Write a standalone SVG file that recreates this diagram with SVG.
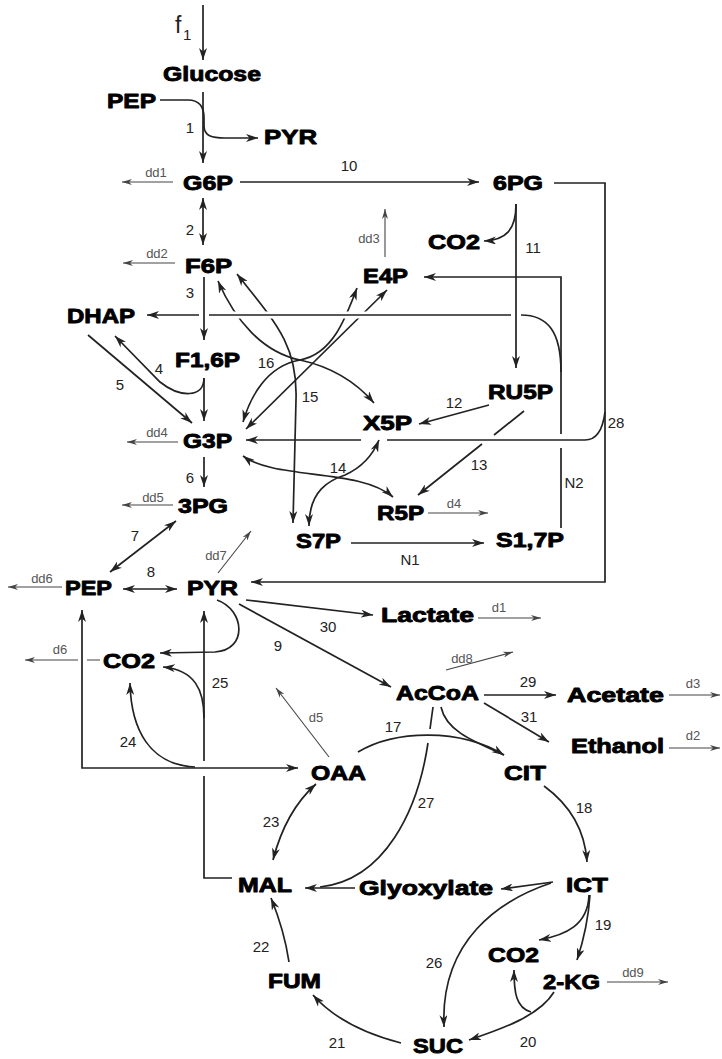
<svg xmlns="http://www.w3.org/2000/svg" width="722" height="1059" viewBox="0 0 722 1059">
<defs>
<style>
.n{font-family:"Liberation Sans",Arial,sans-serif;font-weight:bold;font-size:21px;fill:#000;stroke:#000;stroke-width:0.9;stroke-linejoin:round}
.l{font-family:"Liberation Sans",Arial,sans-serif;font-size:15px;fill:#222;text-anchor:middle}
.g{font-family:"Liberation Sans",Arial,sans-serif;font-size:13px;fill:#555;text-anchor:middle}
.c{fill:none;stroke:#222;stroke-width:1.7}
.ca{fill:none;stroke:#222;stroke-width:1.7;marker-end:url(#ah)}
.cb{fill:none;stroke:#222;stroke-width:1.7;marker-start:url(#ah);marker-end:url(#ah)}
.d{fill:none;stroke:#444;stroke-width:1.1;marker-end:url(#ag)}
.h{fill:none;stroke:#fff;stroke-width:7}
</style>
<marker id="ah" viewBox="0 0 12 8" refX="12" refY="4" markerWidth="12" markerHeight="8" markerUnits="userSpaceOnUse" orient="auto-start-reverse"><path d="M0,0 L12,4 L0,8 L3.5,4 z" fill="#222"/></marker>
<marker id="ag" viewBox="0 0 10 6" refX="10" refY="3" markerWidth="10" markerHeight="6" markerUnits="userSpaceOnUse" orient="auto"><path d="M0,0 L10,3 L0,6 L3,3 z" fill="#444"/></marker>
</defs>
<rect width="722" height="1059" fill="#fff"/>
<g id="connectors">
<path class="ca" d="M203,5 L203,60"/>
<path class="ca" d="M203,92 L203,163"/>
<path class="ca" d="M160,100 L188,100 C200,100 204,108 204,118 L204,126 C204,136 212,138 225,138 L258,138"/>
<path class="d" d="M173,182 L122,182"/>
<path class="ca" d="M240,182 L479,182"/>
<path class="cb" d="M203,198 L203,245"/>
<path class="d" d="M175,263 L123,263"/>
<path class="ca" d="M516,204 C516,230 506,240 484,241"/>
<path class="d" d="M385,257 L385,209"/>
<path class="ca" d="M554,183 L605,183 L605,582 L251,582"/>
<path class="ca" d="M605,412 C603,428 598,440 585,440 L387,440 M361,440 L246,440"/>
<path class="ca" d="M561,528 L561,448 M561,434 L561,277 L424,277"/>
<path class="cb" d="M218,281 C235,320 262,352 300,360 C332,367 356,382 374,403"/>
<path class="cb" d="M357,288 C345,320 332,354 300,360 C266,366 250,398 243,422"/>
<path class="cb" d="M237,274 C275,322 298,345 296,400 L293,523"/>
<path class="cb" d="M387,290 L246,429"/>
<path class="h" d="M215,315 L420,315"/>
<path class="ca" d="M561,372 C561,332 548,315 521,315 M511,315 L209,315 M199,315 L147,315"/>
<path class="ca" d="M204,277 L204,340"/>
<path class="ca" d="M516,204 L516,368"/>
<path class="ca" d="M204,378 C204,398 180,398 160,382 L115,336"/>
<path class="ca" d="M204,378 L204,421"/>
<path class="ca" d="M88,335 L192,423"/>
<path class="d" d="M178,442 L127,442"/>
<path class="ca" d="M204,457 L204,487"/>
<path class="d" d="M173,505 L122,505"/>
<path class="cb" d="M176,521 L110,572"/>
<path class="d" d="M62,587 L8,587"/>
<path class="cb" d="M123,589 L177,589"/>
<path class="d" d="M218,573 L251,531"/>
<path class="ca" d="M489,405 L419,424"/>
<path class="ca" d="M524,411 L494,435 M482,444 L418,495"/>
<path class="cb" d="M243,456 C275,480 360,468 393,497"/>
<path class="cb" d="M309,526 C309,490 330,480 345,475 C365,466 374,452 379,440"/>
<path class="d" d="M428,513 L488,513"/>
<path class="ca" d="M351,543 L484,543"/>
<path class="ca" d="M217,600 C245,610 248,650 215,652 L160,653"/>
<path class="d" d="M100,660 L87,660 M78,660 L25,660"/>
<path class="cb" d="M82,610 L82,768 L298,768"/>
<path class="ca" d="M195,767 C150,765 131,730 130,683"/>
<path class="ca" d="M232,878 L204,878 L204,776 M204,761 L204,611"/>
<path class="ca" d="M204,718 C204,690 195,670 163,667"/>
<path class="ca" d="M239,604 L391,687"/>
<path class="ca" d="M246,600 L373,615"/>
<path class="d" d="M478,618 L541,618"/>
<path class="d" d="M329,757 L276,688"/>
<path class="d" d="M446,670 L513,652"/>
<path class="ca" d="M484,695 L556,695"/>
<path class="ca" d="M484,703 L549,742"/>
<path class="d" d="M669,695 L720,695"/>
<path class="d" d="M669,748 L720,748"/>
<path class="ca" d="M358,752 C395,730 460,728 504,755"/>
<path class="c" d="M441,707 C446,730 470,740 504,755"/>
<path class="c" d="M433,707 L430,729 M428,743 C418,810 385,880 320,887"/>
<path class="ca" d="M355,888 L305,888"/>
<path class="cb" d="M273,860 C282,825 298,800 316,784"/>
<path class="ca" d="M544,786 C570,805 585,830 587,862"/>
<path class="ca" d="M553,882 L501,889"/>
<path class="ca" d="M551,883 C500,900 440,940 444,1027"/>
<path class="ca" d="M589,895 C588,925 566,935 539,940"/>
<path class="ca" d="M590,895 C588,925 582,945 577,960"/>
<path class="d" d="M607,982 L668,982"/>
<path class="ca" d="M554,992 C540,1015 505,1028 469,1040"/>
<path class="ca" d="M531,1012 C516,1008 514,992 514,970"/>
<path class="ca" d="M401,1043 C370,1035 335,1020 313,995"/>
<path class="ca" d="M289,962 C285,935 278,915 271,898"/>
</g>
<g id="reaction-labels">
<text x="175" y="33" style="font-family:'Liberation Sans',Arial,sans-serif;font-size:23px;fill:#222">f</text>
<text x="183" y="40" style="font-family:'Liberation Sans',Arial,sans-serif;font-size:15px;fill:#222">1</text>
<text class="l" x="190" y="133">1</text>
<text class="l" x="349" y="171">10</text>
<text class="l" x="190" y="235">2</text>
<text class="l" x="190" y="298">3</text>
<text class="l" x="533" y="253">11</text>
<text class="l" x="159" y="374">4</text>
<text class="l" x="120" y="390">5</text>
<text class="l" x="266" y="368">16</text>
<text class="l" x="310" y="402">15</text>
<text class="l" x="454" y="408">12</text>
<text class="l" x="616" y="428">28</text>
<text class="l" x="190" y="483">6</text>
<text class="l" x="479" y="470">13</text>
<text class="l" x="338" y="473">14</text>
<text class="l" x="574" y="488">N2</text>
<text class="l" x="135" y="541">7</text>
<text class="l" x="410" y="565">N1</text>
<text class="l" x="151" y="577">8</text>
<text class="l" x="328" y="632">30</text>
<text class="l" x="278" y="651">9</text>
<text class="l" x="220" y="688">25</text>
<text class="l" x="528" y="687">29</text>
<text class="l" x="529" y="722">31</text>
<text class="l" x="393" y="732">17</text>
<text class="l" x="128" y="747">24</text>
<text class="l" x="584" y="813">18</text>
<text class="l" x="271" y="827">23</text>
<text class="l" x="426" y="808">27</text>
<text class="l" x="603" y="930">19</text>
<text class="l" x="261" y="952">22</text>
<text class="l" x="434" y="968">26</text>
<text class="l" x="528" y="1047">20</text>
<text class="l" x="337" y="1048">21</text>
<text class="g" x="156" y="177">dd1</text>
<text class="g" x="157" y="258">dd2</text>
<text class="g" x="369" y="243">dd3</text>
<text class="g" x="157" y="437">dd4</text>
<text class="g" x="153" y="502">dd5</text>
<text class="g" x="42" y="583">dd6</text>
<text class="g" x="216" y="560">dd7</text>
<text class="g" x="60" y="654">d6</text>
<text class="g" x="454" y="508">d4</text>
<text class="g" x="499" y="612">d1</text>
<text class="g" x="462" y="663">dd8</text>
<text class="g" x="316" y="722">d5</text>
<text class="g" x="693" y="688">d3</text>
<text class="g" x="693" y="740">d2</text>
<text class="g" x="633" y="977">dd9</text>
</g>
<g id="glucose"><text class="n" x="163" y="81" textLength="98" lengthAdjust="spacingAndGlyphs">Glucose</text></g>
<g id="pep_top"><text class="n" x="107" y="108" textLength="49" lengthAdjust="spacingAndGlyphs">PEP</text></g>
<g id="pyr_top"><text class="n" x="264" y="144" textLength="53" lengthAdjust="spacingAndGlyphs">PYR</text></g>
<g id="g6p"><text class="n" x="183" y="190" textLength="50" lengthAdjust="spacingAndGlyphs">G6P</text></g>
<g id="n6pg"><text class="n" x="493" y="190" textLength="50" lengthAdjust="spacingAndGlyphs">6PG</text></g>
<g id="co2_a"><text class="n" x="428" y="249" textLength="52" lengthAdjust="spacingAndGlyphs">CO2</text></g>
<g id="f6p"><text class="n" x="185" y="273" textLength="47" lengthAdjust="spacingAndGlyphs">F6P</text></g>
<g id="e4p"><text class="n" x="363" y="283" textLength="45" lengthAdjust="spacingAndGlyphs">E4P</text></g>
<g id="dhap"><text class="n" x="67" y="323" textLength="68" lengthAdjust="spacingAndGlyphs">DHAP</text></g>
<g id="f16p"><text class="n" x="175" y="367" textLength="65" lengthAdjust="spacingAndGlyphs">F1,6P</text></g>
<g id="ru5p"><text class="n" x="488" y="399" textLength="65" lengthAdjust="spacingAndGlyphs">RU5P</text></g>
<g id="x5p"><text class="n" x="363" y="430" textLength="49" lengthAdjust="spacingAndGlyphs">X5P</text></g>
<g id="g3p"><text class="n" x="183" y="448" textLength="49" lengthAdjust="spacingAndGlyphs">G3P</text></g>
<g id="pg3"><text class="n" x="178" y="513" textLength="50" lengthAdjust="spacingAndGlyphs">3PG</text></g>
<g id="r5p"><text class="n" x="377" y="520" textLength="47" lengthAdjust="spacingAndGlyphs">R5P</text></g>
<g id="s7p"><text class="n" x="296" y="548" textLength="45" lengthAdjust="spacingAndGlyphs">S7P</text></g>
<g id="s17p"><text class="n" x="496" y="547" textLength="68" lengthAdjust="spacingAndGlyphs">S1,7P</text></g>
<g id="pep"><text class="n" x="65" y="595" textLength="47" lengthAdjust="spacingAndGlyphs">PEP</text></g>
<g id="pyr"><text class="n" x="187" y="595" textLength="51" lengthAdjust="spacingAndGlyphs">PYR</text></g>
<g id="lactate"><text class="n" x="381" y="622" textLength="93" lengthAdjust="spacingAndGlyphs">Lactate</text></g>
<g id="co2_b"><text class="n" x="103" y="668" textLength="52" lengthAdjust="spacingAndGlyphs">CO2</text></g>
<g id="accoa"><text class="n" x="396" y="700" textLength="83" lengthAdjust="spacingAndGlyphs">AcCoA</text></g>
<g id="acetate"><text class="n" x="567" y="702" textLength="97" lengthAdjust="spacingAndGlyphs">Acetate</text></g>
<g id="ethanol"><text class="n" x="571" y="753" textLength="93" lengthAdjust="spacingAndGlyphs">Ethanol</text></g>
<g id="oaa"><text class="n" x="311" y="780" textLength="55" lengthAdjust="spacingAndGlyphs">OAA</text></g>
<g id="cit"><text class="n" x="504" y="780" textLength="42" lengthAdjust="spacingAndGlyphs">CIT</text></g>
<g id="mal"><text class="n" x="238" y="892" textLength="54" lengthAdjust="spacingAndGlyphs">MAL</text></g>
<g id="glyoxylate"><text class="n" x="359" y="895" textLength="134" lengthAdjust="spacingAndGlyphs">Glyoxylate</text></g>
<g id="ict"><text class="n" x="566" y="892" textLength="42" lengthAdjust="spacingAndGlyphs">ICT</text></g>
<g id="co2_c"><text class="n" x="488" y="962" textLength="51" lengthAdjust="spacingAndGlyphs">CO2</text></g>
<g id="kg2"><text class="n" x="543" y="989" textLength="57" lengthAdjust="spacingAndGlyphs">2-KG</text></g>
<g id="fum"><text class="n" x="268" y="988" textLength="53" lengthAdjust="spacingAndGlyphs">FUM</text></g>
<g id="suc"><text class="n" x="413" y="1053" textLength="50" lengthAdjust="spacingAndGlyphs">SUC</text></g>
</svg>
